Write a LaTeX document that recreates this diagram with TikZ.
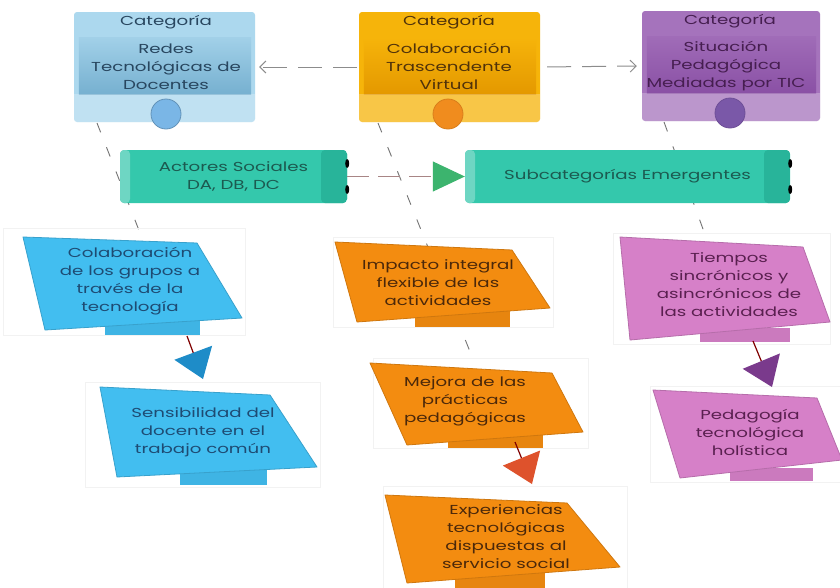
\documentclass[tikz,border=0pt]{standalone}
\usepackage{fontspec}
\newfontfamily\diagfont[FakeStretch=1.4]{Poppins}
\usetikzlibrary{positioning,arrows.meta,calc}
\definecolor{catblue}{RGB}{172,216,238}
\definecolor{catblueband}{RGB}{118,176,208}
\definecolor{catbluedot}{RGB}{122,182,230}
\definecolor{catbluetext}{RGB}{40,70,95}
\definecolor{catamber}{RGB}{246,180,10}
\definecolor{catamberband}{RGB}{228,152,0}
\definecolor{catamberdot}{RGB}{240,140,30}
\definecolor{catambertext}{RGB}{80,50,10}
\definecolor{catviolet}{RGB}{165,115,188}
\definecolor{catvioletband}{RGB}{138,80,165}
\definecolor{catvioletdot}{RGB}{122,88,168}
\definecolor{catviolettext}{RGB}{70,30,80}
\definecolor{actteal}{RGB}{52,200,172}
\definecolor{actteallight}{RGB}{110,214,195}
\definecolor{acttealdark}{RGB}{40,180,154}
\definecolor{acttealtext}{RGB}{28,90,80}
\definecolor{tileblue}{RGB}{66,190,240}
\definecolor{tilebluetext}{RGB}{30,75,115}
\definecolor{tileorange}{RGB}{243,140,16}
\definecolor{tileorangetext}{RGB}{75,40,10}
\definecolor{tilepink}{RGB}{214,128,200}
\definecolor{tilepinktext}{RGB}{90,32,80}
\definecolor{dropblue}{RGB}{30,140,200}
\definecolor{dropred}{RGB}{222,82,44}
\definecolor{dropviolet}{RGB}{122,58,140}
\definecolor{dropgreen}{RGB}{60,180,110}

\begin{document}
\begin{tikzpicture}[x=1pt, y=-1pt, every node/.style={font=\diagfont\fontsize{13}{18}\selectfont, align=center, inner sep=0pt}]
  \tikzset{
    catbox/.style={rounded corners=3pt, minimum width=181pt, minimum height=110pt},
    catdot/.style={circle, minimum size=30pt, line width=0.8pt},
    catlink/.style={draw=black!45, line width=1pt, dash pattern=on 24pt off 11pt, -{Straight Barb[length=6pt, width=12pt]}},
    actbox/.style={rounded corners=4pt, minimum height=53pt, fill=actteal, text=acttealtext,
      path picture={
        \fill[actteallight] (path picture bounding box.north west) rectangle ([xshift=10pt]path picture bounding box.south west);
        \fill[acttealdark] ([xshift=-26pt]path picture bounding box.north east) rectangle (path picture bounding box.south east);
      }},
    teallink/.style={draw=black!30!pink!80!gray, line width=1pt, dash pattern=on 22pt off 9pt, -{Triangle[length=32pt, width=30pt, color=dropgreen]}},
    guideline/.style={draw=black!55, line width=0.9pt, dash pattern=on 10pt off 16pt},
    tilepoly/.style={fill=#1, draw=#1!85!black, line width=0.8pt, line join=round},
    tiletab/.style={fill=#1!95!black},
    tileframe/.style={draw=black!5, line width=0.6pt},
    dropline/.style={draw=black!50!red, line width=1.2pt, -{Triangle[length=28pt, width=40pt, color=#1]}}
  }
  \fill[white] (0,0) rectangle (840,587);
  \useasboundingbox (0,0) rectangle (840,587);

  \coordinate (redes-foot)  at (97,123);
  \coordinate (trasc-foot)  at (378,123);
  \coordinate (situ-foot)   at (664,122);
  \coordinate (colab-top)   at (142,238);
  \coordinate (mejora-top)  at (475,364);
  \coordinate (tiempos-top) at (707,240);
  \coordinate (colab-out)   at (187,336);
  \coordinate (sensib-in)   at (203,379);
  \coordinate (mejora-out)  at (515,442);
  \coordinate (exper-in)    at (532,484);
  \coordinate (tiempos-out) at (753,341);
  \coordinate (pedag-in)    at (772,387);

  \draw[guideline] (redes-foot) -- (colab-top);
  \draw[guideline] (trasc-foot) -- (mejora-top);
  \draw[guideline] (situ-foot) -- (tiempos-top);

  % categorias
  \node[catbox, fill=catblue]   (redes) at (164.5,67) {};
  \node[catbox, fill=catamber]  (trasc) at (449.5,67) {};
  \node[catbox, fill=catviolet, minimum width=178pt] (situ) at (731,66) {};
  \shade[top color=catblue!80!catblueband, bottom color=catblueband] ([shift={(5,26)}]redes.north west) rectangle ([shift={(-4,-28)}]redes.south east);
  \shade[top color=catamber, bottom color=catamberband] ([shift={(5,26)}]trasc.north west) rectangle ([shift={(-4,-28)}]trasc.south east);
  \shade[top color=catviolet!80!catvioletband, bottom color=catvioletband] ([shift={(5,26)}]situ.north west) rectangle ([shift={(-4,-28)}]situ.south east);
  \fill[white, opacity=0.25] ([shift={(0,-28)}]redes.south west) rectangle (redes.south east);
  \fill[white, opacity=0.25] ([shift={(0,-28)}]trasc.south west) rectangle (trasc.south east);
  \fill[white, opacity=0.25] ([shift={(0,-28)}]situ.south west) rectangle (situ.south east);

  \node[catdot, fill=catbluedot, draw=catbluedot!80!black]     (redes-dot) at (166,114) {};
  \node[catdot, fill=catamberdot, draw=catamberdot!90!black]   (trasc-dot) at (448,114) {};
  \node[catdot, fill=catvioletdot, draw=catvioletdot!90!black] (situ-dot)  at (730,113) {};

  \node[text=catbluetext]   (redes-head) at (166,22) {Categoría};
  \node[text=catambertext]  (trasc-head) at (449,22) {Categoría};
  \node[text=catviolettext] (situ-head)  at (730,21) {Categoría};
  \node[text=catbluetext]   (redes-name) at (166,67) {Redes\\Tecnológicas de\\Docentes};
  \node[text=catambertext]  (trasc-name) at (449,66) {Colaboración\\Trascendente\\Virtual};
  \node[text=catviolettext] (situ-name)  at (726,66) {Situación\\Pedagógica\\Mediadas por TIC};

  \draw[catlink, shorten <=2pt, shorten >=4pt] (trasc.west) -- (redes.east);
  \draw[catlink, shorten <=7pt, shorten >=5pt] (trasc.east) -- (situ.west);

  % actores y subcategorias
  \node[actbox, minimum width=227pt] (actores) at (233.5,176.5) {Actores Sociales\\DA, DB, DC};
  \node[actbox, minimum width=325pt] (subcat)  at (627.5,176.5) {Subcategorías Emergentes};
  \foreach \dy in {-13pt,13pt} {
    \fill[black] ([yshift=\dy]actores.east) ellipse (2pt and 4.5pt);
    \fill[black] ([yshift=\dy]subcat.east) ellipse (2pt and 4.5pt);
  }
  \draw[teallink] (actores.east) -- (subcat.west);

  % subcategorias emergentes
  \draw[tileframe] (3,228) rectangle (245,335);
  \fill[tiletab=tileblue] (105,316) rectangle (200,335);
  \filldraw[tilepoly=tileblue] (23,237) -- (197,243) -- (242,318) -- (45,330) -- cycle;
  \node[text=tilebluetext] (colab) at (130,281) {Colaboración\\de los grupos a\\través de la\\tecnología};

  \draw[tileframe] (85,382) rectangle (320,487);
  \fill[tiletab=tileblue] (180,465) rectangle (267,485);
  \filldraw[tilepoly=tileblue] (100,387) -- (270,395) -- (317,467) -- (117,477) -- cycle;
  \node[text=tilebluetext] (sensib) at (203,432) {Sensibilidad del\\docente en el\\trabajo común};

  \draw[tileframe] (333,237) rectangle (553,327);
  \fill[tiletab=tileorange] (415,310) rectangle (510,327);
  \filldraw[tilepoly=tileorange] (335,242) -- (512,250) -- (550,308) -- (357,322) -- cycle;
  \node[text=tileorangetext] (impacto) at (438,283) {Impacto integral\\flexible de las\\actividades};

  \draw[tileframe] (373,358) rectangle (588,448);
  \fill[tiletab=tileorange] (448,435) rectangle (543,448);
  \filldraw[tilepoly=tileorange] (370,363) -- (552,373) -- (583,432) -- (407,445) -- cycle;
  \node[text=tileorangetext] (mejora) at (465,401) {Mejora de las\\prácticas\\pedagógicas};

  \draw[tileframe] (383,486) rectangle (627,590);
  \fill[tiletab=tileorange] (455,570) rectangle (545,590);
  \filldraw[tilepoly=tileorange] (385,495) -- (567,503) -- (620,567) -- (407,583) -- cycle;
  \node[text=tileorangetext] (exper) at (506,537) {Experiencias\\tecnológicas\\dispuestas al\\servicio social};

  \draw[tileframe] (613,233) rectangle (830,344);
  \fill[tiletab=tilepink] (700,328) rectangle (790,342);
  \filldraw[tilepoly=tilepink] (620,237) -- (803,247) -- (830,322) -- (630,340) -- cycle;
  \node[text=tilepinktext] (tiempos) at (729,285) {Tiempos\\sincrónicos y\\asincrónicos de\\las actividades};

  \draw[tileframe] (650,386) rectangle (845,482);
  \fill[tiletab=tilepink] (730,468) rectangle (813,481);
  \filldraw[tilepoly=tilepink] (653,390) -- (817,398) -- (842,460) -- (680,478) -- cycle;
  \node[text=tilepinktext] (pedag) at (750,432) {Pedagogía\\tecnológica\\holística};

  \draw[dropline=dropblue]   (colab-out) -- (sensib-in);
  \draw[dropline=dropred]    (mejora-out) -- (exper-in);
  \draw[dropline=dropviolet] (tiempos-out) -- (pedag-in);
\end{tikzpicture}
\end{document}
